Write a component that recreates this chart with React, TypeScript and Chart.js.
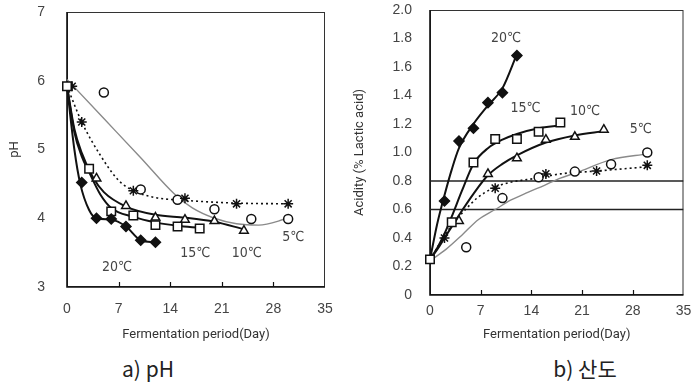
import React, { useEffect, useRef } from "react";
import { Chart, registerables } from "chart.js";
Chart.register(...registerables);

// ---------- shared ----------
const xTitle = "Fermentation period(Day)";
const tempLabels = ["20℃", "15℃", "10℃", "5℃"];

// ---------- a) pH : measured points ----------
const phDays20 = [2, 4, 6, 8, 10, 12];
const phVal20 = [4.52, 4.0, 3.99, 3.88, 3.68, 3.65];
const phDays15 = [0, 3, 6, 9, 12, 15, 18];
const phVal15 = [5.92, 4.72, 4.1, 4.04, 3.9, 3.88, 3.85];
const phDays10 = [4, 8, 12, 16, 20, 24];
const phVal10 = [4.58, 4.18, 4.01, 3.98, 3.96, 3.82];
const phDays5s = [0.7, 2, 9, 16, 23, 30];
const phVal5s = [5.92, 5.4, 4.4, 4.29, 4.21, 4.21];
const phDays5c = [5, 10, 15, 20, 25, 30];
const phVal5c = [5.83, 4.42, 4.27, 4.13, 3.99, 3.99];

// ---------- a) pH : fitted curves (read along the drawn curves) ----------
const phCurveDays20 = [0, 1, 1.8, 3, 4, 6, 8, 10, 12];
const phCurveVal20 = [5.92, 5.0, 4.5, 4.12, 4.0, 3.98, 3.88, 3.68, 3.65];
const phCurveDays15 = [0, 1, 2, 3, 4.5, 6, 9, 12, 15, 18];
const phCurveVal15 = [5.92, 5.25, 4.9, 4.67, 4.35, 4.15, 4.02, 3.94, 3.89, 3.86];
const phCurveDays10 = [0, 1, 2, 3.5, 5, 8, 12, 16, 20, 24];
const phCurveVal10 = [5.92, 5.3, 4.95, 4.6, 4.38, 4.17, 4.05, 4.01, 3.95, 3.84];
const phCurveDays5s = [0, 2, 4.5, 7, 9, 12, 16, 23, 30];
const phCurveVal5s = [5.92, 5.4, 4.92, 4.55, 4.4, 4.3, 4.26, 4.22, 4.21];
const phCurveDays5c = [0, 5, 10, 14.5, 17, 20, 23, 26, 30];
const phCurveVal5c = [6.02, 5.45, 4.88, 4.36, 4.15, 4.0, 3.92, 3.9, 4.0];

// label anchors (day, pH)
const phLabelDays = [6.8, 17.4, 24.4, 30.7];
const phLabelVals = [3.29, 3.49, 3.49, 3.72];

// ---------- b) acidity : measured points ----------
const acDays20 = [2, 4, 6, 8, 10, 12];
const acVal20 = [0.66, 1.08, 1.17, 1.35, 1.42, 1.68];
const acDays15 = [0, 3, 6, 9, 12, 15, 18];
const acVal15 = [0.25, 0.51, 0.93, 1.095, 1.095, 1.146, 1.21];
const acDays10 = [4, 8, 12, 16, 20, 24];
const acVal10 = [0.52, 0.85, 0.96, 1.09, 1.11, 1.16];
const acDays5s = [2, 9, 16, 23, 30];
const acVal5s = [0.4, 0.75, 0.85, 0.87, 0.91];
const acDays5c = [5, 10, 15, 20, 25, 30];
const acVal5c = [0.335, 0.68, 0.826, 0.866, 0.917, 1.0];

// ---------- b) acidity : fitted curves ----------
const acCurveDays20 = [0, 1, 2, 3, 4, 6, 8, 10, 12];
const acCurveVal20 = [0.25, 0.5, 0.7, 0.88, 1.03, 1.2, 1.33, 1.45, 1.69];
const acCurveDays15 = [0, 1, 2, 3, 4.4, 6, 8, 10, 12, 15, 18];
const acCurveVal15 = [0.25, 0.33, 0.43, 0.55, 0.73, 0.92, 1.03, 1.09, 1.13, 1.17, 1.19];
const acCurveDays10 = [0, 1, 2, 3, 4, 6, 8, 10, 12, 16, 20, 24];
const acCurveVal10 = [0.25, 0.32, 0.4, 0.48, 0.56, 0.71, 0.84, 0.92, 0.98, 1.07, 1.12, 1.15];
const acCurveDays5s = [0, 1.7, 3, 4.9, 6.5, 8.7, 11, 14.8, 18, 23, 30];
const acCurveVal5s = [0.25, 0.39, 0.49, 0.6, 0.68, 0.75, 0.79, 0.82, 0.85, 0.87, 0.9];
const acCurveDays5c = [0, 2.2, 4.4, 6.7, 9, 11.2, 13.5, 15.8, 18, 20.3, 25, 30];
const acCurveVal5c = [0.24, 0.32, 0.42, 0.53, 0.6, 0.667, 0.72, 0.77, 0.82, 0.86, 0.95, 0.99];

const acRefLevels = [0.8, 0.6];
const acLabelDays = [10.5, 13.2, 21.4, 29.1];
const acLabelVals = [1.8, 1.31, 1.29, 1.16];

// ---------- styling ----------
const TICK_FONT = { family: '"Liberation Sans", Arial, sans-serif', size: 14 };
const TITLE_FONT = { family: '"Liberation Sans Narrow", Roboto, sans-serif', size: 13 };
const BLACK = "#111";
const GREY = "#8a8a8a";

const zip = (xs: number[], ys: number[]) => xs.map((x, i) => ({ x, y: ys[i] }));

function markerSets(sets: { d: number[]; v: number[]; style: string; fill: boolean; r: number }[]) {
  return sets.map((s) => ({
    type: "scatter" as const,
    data: zip(s.d, s.v),
    showLine: false,
    pointStyle: s.style,
    pointRadius: s.r,
    pointBorderWidth: 1.5,
    pointBorderColor: BLACK,
    pointBackgroundColor: s.fill ? BLACK : "#fff",
    clip: false,
  }));
}

function curveSets(sets: { d: number[]; v: number[]; color: string; width: number; dash?: number[] }[]) {
  return sets.map((s) => ({
    type: "scatter" as const,
    data: zip(s.d, s.v),
    showLine: true,
    pointRadius: 0,
    borderColor: s.color,
    borderWidth: s.width,
    borderDash: s.dash || [],
    cubicInterpolationMode: "monotone" as const,
    clip: false,
  }));
}

function decorPlugin(labelDays: number[], labelVals: number[]) {
  return {
    id: "decor",
    beforeDatasetsDraw(chart: any) {
      const { ctx, chartArea: a, scales } = chart;
      ctx.save();
      ctx.strokeStyle = "#333";
      ctx.lineWidth = 1;
      ctx.strokeRect(a.left + 0.5, a.top + 0.5, a.right - a.left - 1, a.bottom - a.top - 1);
      ctx.strokeStyle = BLACK;
      ctx.lineWidth = 1.6;
      ctx.beginPath();
      ctx.moveTo(a.left, a.top);
      ctx.lineTo(a.left, a.bottom);
      ctx.lineTo(a.right, a.bottom);
      ctx.stroke();
      const xs = scales.x;
      ctx.lineWidth = 1.2;
      xs.ticks.forEach((t: any) => {
        if (t.value <= xs.min || t.value >= xs.max) return;
        const px = Math.round(xs.getPixelForValue(t.value)) + 0.5;
        ctx.beginPath();
        ctx.moveTo(px, a.bottom);
        ctx.lineTo(px, a.bottom - 5);
        ctx.stroke();
      });
      ctx.restore();
    },
    afterDatasetsDraw(chart: any) {
      const { ctx, scales } = chart;
      ctx.save();
      ctx.fillStyle = "#444";
      ctx.font = '14px "DejaVu Sans Condensed", "Liberation Sans", sans-serif';
      ctx.textAlign = "center";
      ctx.textBaseline = "middle";
      tempLabels.forEach((t, i) => {
        ctx.fillText(t, scales.x.getPixelForValue(labelDays[i]), scales.y.getPixelForValue(labelVals[i]));
      });
      ctx.restore();
    },
  };
}

function baseOptions(p: {
  padTop: number; padRight: number; yWidth: number; xHeight: number; yPad: number; xPad: number;
  yMin: number; yMax: number; yStep: number; yTitle: string; yFmt: (v: number) => string;
}) {
  return {
    responsive: false,
    animation: false,
    layout: { padding: { top: p.padTop, right: p.padRight, left: 0, bottom: 0 } },
    plugins: { legend: { display: false }, tooltip: { enabled: false } },
    scales: {
      x: {
        type: "linear",
        min: 0,
        max: 35,
        border: { display: false },
        grid: { display: false, drawTicks: false },
        ticks: { stepSize: 7, padding: p.xPad, color: "#444", font: TICK_FONT, maxRotation: 0, autoSkip: false },
        title: { display: true, text: xTitle, color: "#333", font: TITLE_FONT, padding: { top: 0, bottom: 2 } },
        afterFit: (s: any) => { s.height = p.xHeight; s.paddingLeft = 0; s.paddingRight = 0; },
      },
      y: {
        type: "linear",
        min: p.yMin,
        max: p.yMax,
        border: { display: false },
        grid: { display: false, drawTicks: false },
        ticks: { stepSize: p.yStep, padding: p.yPad, color: "#444", font: TICK_FONT, callback: (v: any) => p.yFmt(Number(v)) },
        title: { display: true, text: p.yTitle, color: "#333", font: TITLE_FONT, padding: { top: 7, bottom: 0 } },
        afterFit: (s: any) => { s.width = p.yWidth; s.paddingTop = 0; s.paddingBottom = 0; },
      },
    },
  } as any;
}

function PhChart() {
  const ref = useRef<HTMLCanvasElement>(null);
  useEffect(() => {
    const chart = new Chart(ref.current!, {
      type: "scatter",
      data: {
        datasets: [
          ...markerSets([
            { d: phDays20, v: phVal20, style: "rectRot", fill: true, r: 5 },
            { d: phDays15, v: phVal15, style: "rect", fill: false, r: 6 },
            { d: phDays10, v: phVal10, style: "triangle", fill: false, r: 5 },
            { d: phDays5s, v: phVal5s, style: "star", fill: false, r: 5 },
            { d: phDays5c, v: phVal5c, style: "circle", fill: false, r: 4.5 },
          ]),
          ...curveSets([
            { d: phCurveDays20, v: phCurveVal20, color: BLACK, width: 2 },
            { d: phCurveDays15, v: phCurveVal15, color: BLACK, width: 2 },
            { d: phCurveDays10, v: phCurveVal10, color: BLACK, width: 2 },
            { d: phCurveDays5s, v: phCurveVal5s, color: BLACK, width: 1.6, dash: [2, 3] },
            { d: phCurveDays5c, v: phCurveVal5c, color: GREY, width: 1.4 },
          ]),
        ],
      },
      options: baseOptions({
        padTop: 12, padRight: 20, yWidth: 67, xHeight: 58, yPad: 22, xPad: 14,
        yMin: 3, yMax: 7, yStep: 1, yTitle: "pH", yFmt: (v) => String(v),
      }),
      plugins: [decorPlugin(phLabelDays, phLabelVals)],
    } as any);
    return () => chart.destroy();
  }, []);
  return <canvas ref={ref} width={345} height={345} style={{ position: "absolute", left: 0, top: 0, width: 345, height: 345 }} />;
}

function AcidChart() {
  const ref = useRef<HTMLCanvasElement>(null);
  useEffect(() => {
    const chart = new Chart(ref.current!, {
      type: "scatter",
      data: {
        datasets: [
          ...markerSets([
            { d: acDays20, v: acVal20, style: "rectRot", fill: true, r: 5 },
            { d: acDays15, v: acVal15, style: "rect", fill: false, r: 6 },
            { d: acDays10, v: acVal10, style: "triangle", fill: false, r: 5 },
            { d: acDays5s, v: acVal5s, style: "star", fill: false, r: 5 },
            { d: acDays5c, v: acVal5c, style: "circle", fill: false, r: 4.5 },
          ]),
          ...curveSets([
            { d: acCurveDays20, v: acCurveVal20, color: BLACK, width: 2 },
            { d: acCurveDays15, v: acCurveVal15, color: BLACK, width: 2 },
            { d: acCurveDays10, v: acCurveVal10, color: BLACK, width: 2 },
            { d: acCurveDays5s, v: acCurveVal5s, color: BLACK, width: 1.6, dash: [2, 3] },
            { d: acCurveDays5c, v: acCurveVal5c, color: GREY, width: 1.4 },
          ]),
          ...acRefLevels.map((lv) => ({
            type: "scatter" as const,
            data: [{ x: 0, y: lv }, { x: 35, y: lv }],
            showLine: true,
            pointRadius: 0,
            borderColor: "#222",
            borderWidth: 1.6,
          })),
        ],
      },
      options: baseOptions({
        padTop: 10, padRight: 1, yWidth: 85, xHeight: 50, yPad: 18, xPad: 8,
        yMin: 0, yMax: 2, yStep: 0.2, yTitle: "Acidity (% Lactic acid)",
        yFmt: (v) => (Math.abs(v) < 1e-9 ? "0" : v.toFixed(1)),
      }),
      plugins: [decorPlugin(acLabelDays, acLabelVals)],
    } as any);
    return () => chart.destroy();
  }, []);
  return <canvas ref={ref} width={346} height={345} style={{ position: "absolute", left: 345, top: 0, width: 346, height: 345 }} />;
}

const captionStyle: React.CSSProperties = {
  position: "absolute",
  top: 358,
  fontFamily: '"Noto Sans CJK KR", "Noto Sans", sans-serif',
  fontSize: 21,
  lineHeight: "21px",
  color: "#222",
  whiteSpace: "nowrap",
  transform: "translateX(-50%)",
};

export default function App() {
  return (
    <div style={{ position: "fixed", left: 0, top: 0, width: 691, height: 383, background: "#fff", overflow: "hidden" }}>
      <PhChart />
      <AcidChart />
      <div style={{ ...captionStyle, left: 148 }}>a) pH</div>
      <div style={{ ...captionStyle, left: 585 }}>b) 산도</div>
    </div>
  );
}
